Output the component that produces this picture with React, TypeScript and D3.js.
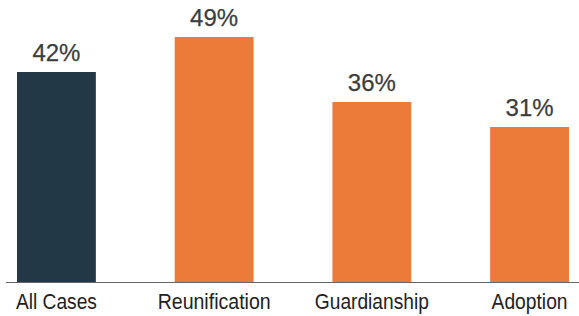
import React from "react";
import * as d3 from "d3";

const categories = ["All Cases", "Reunification", "Guardianship", "Adoption"];
const values = [42, 49, 36, 31];
const labels = ["42%", "49%", "36%", "31%"];
const colors = ["#233846", "#EC7B3A", "#EC7B3A", "#EC7B3A"];
const catWidths = [81, 113, 114, 76];

const W = 579;
const H = 316;
const baseY = 282;

export default function App() {
  const x = d3.scaleBand<string>().domain(categories).range([17, 569]).paddingInner(0.5).paddingOuter(0);
  const y = d3.scaleLinear().domain([0, 56.4]).range([baseY, 0]);
  return (
    <svg width={W} height={H} style={{ position: "absolute", left: 0, top: 0, background: "#fff" }}>
      {categories.map((c, i) => {
        const cx = (x(c) as number) + x.bandwidth() / 2;
        return (
          <g key={c}>
            <rect x={x(c)} y={y(values[i])} width={x.bandwidth()} height={baseY - y(values[i])} fill={colors[i]} />
            <text
              x={cx}
              y={y(values[i]) - 11}
              textAnchor="middle"
              fontFamily="'Liberation Sans', Arial, sans-serif"
              fontSize={24}
              fill="#3d3d3d"
              stroke="#3d3d3d"
              strokeWidth={0.25}
            >
              {labels[i]}
            </text>
            <text
              x={cx}
              y={309}
              textAnchor="middle"
              fontFamily="'Liberation Sans', Arial, sans-serif"
              fontSize={22.5}
              fill="#222"
              textLength={catWidths[i]}
              lengthAdjust="spacingAndGlyphs"
            >
              {c}
            </text>
          </g>
        );
      })}
      <line x1={6} x2={579} y1={baseY + 0.5} y2={baseY + 0.5} stroke="#666" strokeWidth={1.2} />
    </svg>
  );
}
